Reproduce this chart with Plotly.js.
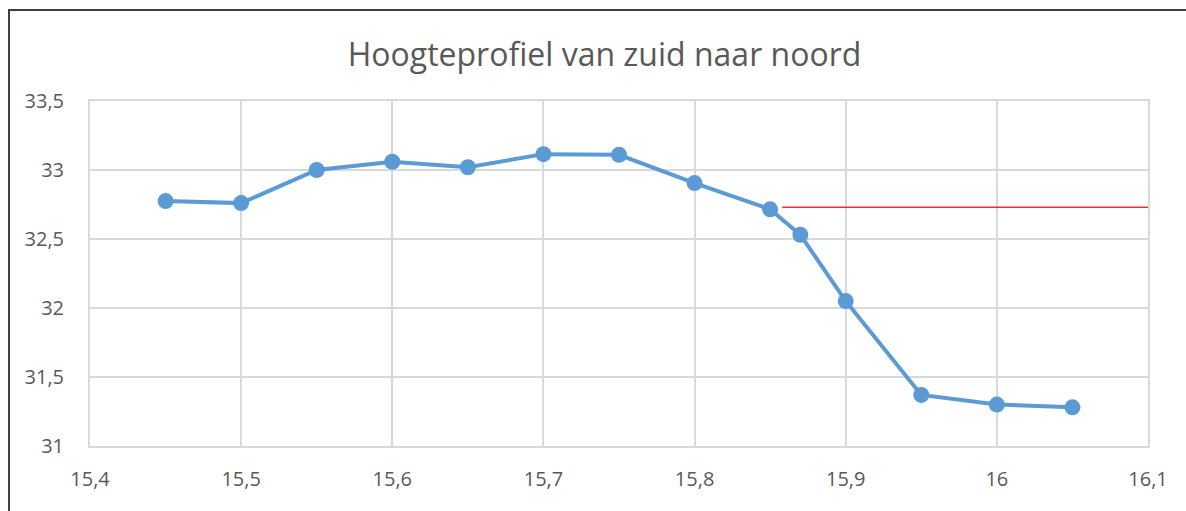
<!DOCTYPE html>
<html>
<head>
<meta charset="utf-8">
<script src="https://cdn.plot.ly/plotly-3.0.1.min.js"></script>
<style>
  html, body { margin: 0; padding: 0; background: #fff; }
  #wrap { position: relative; width: 1186px; height: 511px; overflow: hidden; }
  #chart { width: 1186px; height: 511px; }
  #frame { position: absolute; left: 8px; top: 9px; width: 1300px; height: 600px;
           border-left: 2px solid #404040; border-top: 2px solid #404040; pointer-events: none; }
</style>
</head>
<body>
<div id="wrap">
  <div id="chart"></div>
  <div id="frame"></div>
</div>
<script>
// Distance (km) and height (m)
const afstand = [15.45, 15.5, 15.55, 15.6, 15.65, 15.7, 15.75, 15.8, 15.85, 15.87, 15.9, 15.95, 16.0, 16.05];
const hoogte  = [32.775, 32.76, 33.0, 33.06, 33.02, 33.115, 33.11, 32.905, 32.715, 32.53, 32.05, 31.37, 31.30, 31.28];

// Reference level (red line)
const refX = [15.858, 16.1];
const refY = [32.73, 32.73];

const xTickVals = [15.4, 15.5, 15.6, 15.7, 15.8, 15.9, 16.0, 16.1];
const xTickText = ['15,4', '15,5', '15,6', '15,7', '15,8', '15,9', '16', '16,1'];
const yTickVals = [31, 31.5, 32, 32.5, 33, 33.5];
const yTickText = ['31', '31,5', '32', '32,5', '33', '33,5'];

const traces = [
  {
    x: afstand, y: hoogte, type: 'scatter', mode: 'lines+markers',
    line: { color: '#5B9BD5', width: 4 },
    marker: { color: '#5B9BD5', size: 16 },
    hoverinfo: 'x+y', showlegend: false
  },
  {
    x: refX, y: refY, type: 'scatter', mode: 'lines',
    line: { color: '#E8303A', width: 1.5 },
    hoverinfo: 'skip', showlegend: false
  }
];

const fontFam = '"Open Sans", "Noto Sans", sans-serif';
const layout = {
  width: 1186, height: 511,
  margin: { l: 90, r: 38, t: 101, b: 65 },
  paper_bgcolor: '#ffffff', plot_bgcolor: '#ffffff',
  separators: ',.',
  title: {
    text: 'Hoogteprofiel van zuid naar noord',
    font: { family: fontFam, size: 32, color: '#595959' },
    x: 0.5097, xanchor: 'center', y: 0.893, yanchor: 'middle'
  },
  xaxis: {
    range: [15.4, 16.1], tickvals: xTickVals, ticktext: xTickText,
    showgrid: true, gridcolor: '#D9D9D9', gridwidth: 2,
    showline: true, linecolor: '#D9D9D9', linewidth: 2, mirror: true,
    zeroline: false, ticks: 'outside', ticklen: 14, tickcolor: 'rgba(0,0,0,0)',
    tickfont: { family: fontFam, size: 20, color: '#595959' }
  },
  yaxis: {
    range: [31, 33.5], tickvals: yTickVals, ticktext: yTickText,
    showgrid: true, gridcolor: '#D9D9D9', gridwidth: 2,
    showline: true, linecolor: '#D9D9D9', linewidth: 2, mirror: true,
    zeroline: false, ticks: 'outside', ticklen: 20, tickcolor: 'rgba(0,0,0,0)',
    tickfont: { family: fontFam, size: 20, color: '#595959' }
  }
};

Plotly.newPlot('chart', traces, layout, { displayModeBar: false, staticPlot: true });
</script>
</body>
</html>
